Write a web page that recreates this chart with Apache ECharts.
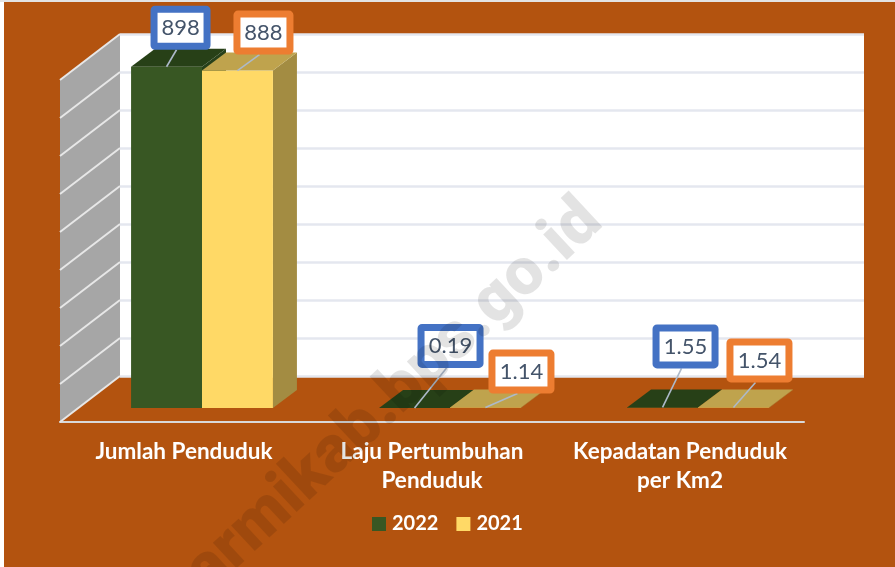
<!DOCTYPE html>
<html>
<head>
<meta charset="utf-8">
<style>
  html, body { margin: 0; padding: 0; background: #fff; }
  #chart { width: 895px; height: 567px; }
</style>
<script src="https://cdn.jsdelivr.net/npm/echarts@6/dist/echarts.min.js"></script>
</head>
<body>
<div id="chart"></div>
<script>
const categories = ['Jumlah Penduduk', 'Laju Pertumbuhan\nPenduduk', 'Kepadatan Penduduk\nper Km2']
const values2022 = [898, 0.19, 1.55]
const values2021 = [888, 1.14, 1.54]
const labels2022 = ['898', '0.19', '1.55']
const labels2021 = ['888', '1.14', '1.54']
const axisTicks = [0, 100, 200, 300, 400, 500, 600, 700, 800, 900]

// fake 3d: how far the wall and the bars go back, in pixels
const wallDepth = [60, -46]
const barFront = [18, -14]
const barDepth = [24, -18]
const barShare = 0.286

// where each callout box sits, from the top middle of its bar
const shift2022 = [[14, -39], [36, -62], [23, -61]]
const shift2021 = [[26, -38], [36, -36], [26, -47]]

const font = 'Lato, "Noto Sans", sans-serif'
const brown = '#B3530F'

function toData(values) {
  return values.map((v, i) => [i, v])
}

function barRender(side, front, top, right) {
  return function (params, api) {
    const width = api.size([1, 0])[0] * barShare
    const c = api.coord([api.value(0), api.value(1)])
    const b = api.coord([api.value(0), 0])
    const x0 = c[0] + barFront[0] + (side < 0 ? -width : 0)
    const x1 = x0 + width
    const yt = c[1] + barFront[1]
    const yb = b[1] + barFront[1]
    const dx = barDepth[0]
    const dy = barDepth[1]
    return {
      type: 'group',
      children: [
        { type: 'polygon', shape: { points: [[x1, yt], [x1 + dx, yt + dy], [x1 + dx, yb + dy], [x1, yb]] }, style: { fill: right } },
        { type: 'polygon', shape: { points: [[x0, yb], [x1, yb], [x1, yt], [x0, yt]] }, style: { fill: front } },
        { type: 'polygon', shape: { points: [[x0, yt], [x1, yt], [x1 + dx, yt + dy], [x0 + dx, yt + dy]] }, style: { fill: top } }
      ]
    }
  }
}

function calloutRender(side, shifts, labels, color) {
  return function (params, api) {
    const i = api.value(0)
    const width = api.size([1, 0])[0] * barShare
    const c = api.coord([i, api.value(1)])
    const ax = c[0] + barFront[0] + side * width / 2
    const ay = c[1] + barFront[1]
    const cx = ax + shifts[i][0]
    const cy = ay + shifts[i][1]
    const text = labels[i]
    const w = text.length > 3 ? 66 : 60
    const h = 44
    return {
      type: 'group',
      children: [
        { type: 'line', shape: { x1: ax, y1: ay, x2: cx - 4, y2: cy + h / 2 }, style: { stroke: '#ADB9CA', lineWidth: 1.6 } },
        {
          type: 'rect',
          shape: { x: cx - w / 2 + 3.5, y: cy - h / 2 + 3.5, width: w - 7, height: h - 7, r: 1 },
          style: { fill: '#fff', stroke: color, lineWidth: 7, lineJoin: 'round' }
        },
        {
          type: 'text',
          style: { x: cx, y: cy, text: text, align: 'center', verticalAlign: 'middle', fill: '#44546A', font: '22px ' + font }
        }
      ]
    }
  }
}

function wallRender(params, api) {
  const x = params.coordSys.x
  const yt = api.coord([0, api.value(1)])[1]
  const yb = api.coord([0, 0])[1]
  return {
    type: 'polygon',
    shape: { points: [[x, yt], [x + wallDepth[0], yt + wallDepth[1]], [x + wallDepth[0], yb + wallDepth[1]], [x, yb]] },
    style: { fill: '#A6A6A6' }
  }
}

function wallLineRender(params, api) {
  const x = params.coordSys.x
  const y = api.coord([0, api.value(1)])[1]
  return {
    type: 'line',
    shape: { x1: x, y1: y, x2: x + wallDepth[0], y2: y + wallDepth[1] },
    style: { stroke: '#E7E7E7', lineWidth: 2 }
  }
}

const plainSeries = { type: 'custom', xAxisIndex: 0, yAxisIndex: 0, silent: true, animation: false, encode: { x: 0, y: 1 } }

const option = {
  animation: false,
  backgroundColor: brown,
  grid: [
    { left: 60, right: 91, top: 80, bottom: 145 },
    { left: 120, right: 31, top: 34, bottom: 191, show: true, backgroundColor: '#fff', borderWidth: 0 }
  ],
  xAxis: [
    {
      type: 'category',
      gridIndex: 0,
      data: categories,
      axisTick: { show: false },
      axisLine: { lineStyle: { color: '#D9D9D9', width: 2 } },
      axisLabel: { interval: 0, color: '#fff', fontFamily: font, fontWeight: 'bold', fontSize: 22.5, lineHeight: 29, margin: 15 }
    },
    { type: 'category', gridIndex: 1, data: categories, show: false }
  ],
  yAxis: [
    { type: 'value', gridIndex: 0, min: 0, max: 900, interval: 100, axisLabel: { show: false }, axisLine: { show: false }, axisTick: { show: false }, splitLine: { show: false } },
    {
      type: 'value',
      gridIndex: 1,
      min: 0,
      max: 900,
      interval: 100,
      axisLabel: { show: false },
      axisLine: { show: false },
      axisTick: { show: false },
      splitLine: { lineStyle: { color: '#E4E7EF', width: 2.5 } }
    }
  ],
  legend: {
    left: 367,
    top: 509,
    data: ['2022', '2021'],
    icon: 'rect',
    itemWidth: 14,
    itemHeight: 14,
    itemGap: 18,
    textStyle: { color: '#fff', fontFamily: font, fontWeight: 'bold', fontSize: 20, padding: [0, 0, 0, 1] }
  },
  graphic: [
    { type: 'rect', left: 0, top: 0, shape: { width: 4, height: 567 }, style: { fill: '#fff' }, z: 50 },
    { type: 'rect', left: 0, top: 0, shape: { width: 895, height: 2 }, style: { fill: '#E3E3E3' }, z: 50 },
    {
      type: 'text',
      x: 383,
      y: 409,
      rotation: 43 * Math.PI / 180,
      style: { text: 'sarmikab.bps.go.id', align: 'center', verticalAlign: 'middle', fill: 'rgba(0,0,0,0.11)', font: '900 66px Roboto, "Liberation Sans", sans-serif' },
      z: 60
    }
  ],
  series: [
    Object.assign({}, plainSeries, { name: 'wall', z: 1, data: [[0, 900]], renderItem: wallRender }),
    Object.assign({}, plainSeries, { name: 'wall lines', z: 2, data: axisTicks.map(t => [0, t]), renderItem: wallLineRender }),
    Object.assign({}, plainSeries, {
      name: '2022', z: 3, data: toData(values2022), itemStyle: { color: '#385723' },
      renderItem: barRender(-1, '#385723', '#274017', '#27401A')
    }),
    Object.assign({}, plainSeries, {
      name: '2021', z: 4, data: toData(values2021), itemStyle: { color: '#FFD966' },
      renderItem: barRender(1, '#FFD966', '#BFA34D', '#A38C42')
    }),
    Object.assign({}, plainSeries, { name: 'callout 2022', z: 5, data: toData(values2022), renderItem: calloutRender(-1, shift2022, labels2022, '#4472C4') }),
    Object.assign({}, plainSeries, { name: 'callout 2021', z: 6, data: toData(values2021), renderItem: calloutRender(1, shift2021, labels2021, '#ED7D31') })
  ]
}

const chart = echarts.init(document.getElementById('chart'), null, { renderer: 'canvas' })
chart.setOption(option)
</script>
</body>
</html>
